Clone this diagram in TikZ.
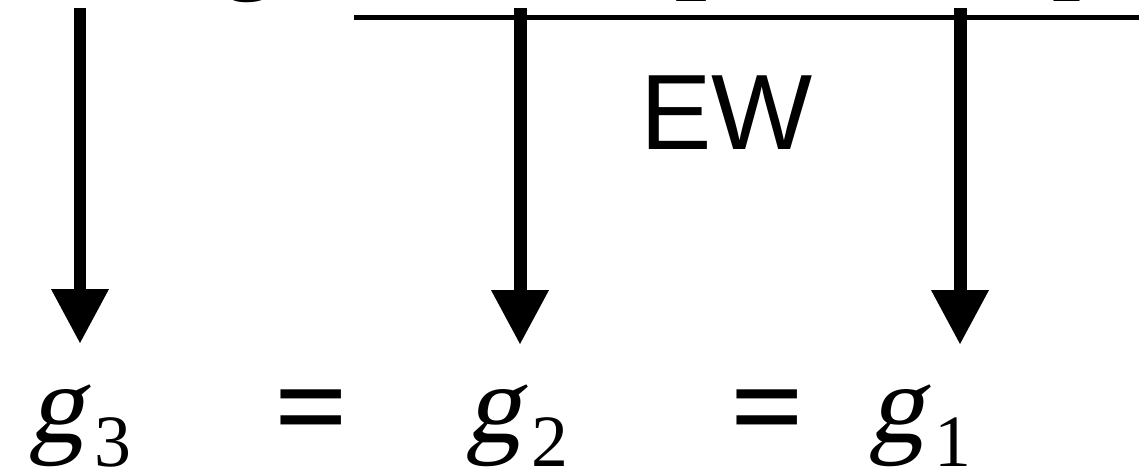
\documentclass[tikz,border=0pt]{standalone}
\usepackage{amsmath}
\usepackage{fontspec}
\setmainfont{Liberation Serif}
\newfontfamily\ewfont{Liberation Sans}
\newfontfamily\slfont[FakeSlant=0.2]{Liberation Serif}
\usetikzlibrary{arrows.meta}

\newcommand{\bigfont}{\fontsize{64}{70}\selectfont}
\newcommand{\subfont}{\fontsize{42}{46}\selectfont}
\newcommand{\gsub}[1]{{\slfont g}\kern0.08em\raisebox{-0.48cm}{\subfont #1}}

\begin{document}
\begin{tikzpicture}[
  x=0.02cm, y=-0.02cm,
  down/.style={-{Triangle[width=1.08cm, length=1.1cm]}, line width=0.26cm},
  bar/.style={line width=0.1cm},
  eqn/.style={anchor=base, inner sep=0pt, font=\bigfont},
  eqsign/.style={anchor=base, inner sep=0pt, font=\fontsize{74}{80}\selectfont\bfseries}]

  \useasboundingbox (0,0) rectangle (1139,474);
  \clip (0,0) rectangle (1139,474);

  % upper row, cut off by the frame
  \node[eqn] (gtop) at (254,-22) {\slfont g};
  \node[anchor=base, inner sep=0pt, font=\subfont] (stwo) at (692,1) {2};
  \node[anchor=base, inner sep=0pt, font=\subfont] (sone) at (1066,1) {1};

  % bar
  \coordinate (barL) at (354,17);
  \coordinate (barR) at (1139,17);
  \draw[bar] (barL) -- (barR);
  \node[anchor=base west, inner sep=0pt, font=\ewfont\fontsize{61}{66}\selectfont]
    (ew) at (640,149) {EW};

  % bottom row
  \node[eqn]    (g3)  at (80,442)  {\gsub{3}};
  \node[eqsign] (eqa) at (312,450) {=};
  \node[eqn]    (g2)  at (517,442) {\gsub{2}};
  \node[eqsign] (eqb) at (768,450) {=};
  \node[eqn]    (g1)  at (920,442) {\gsub{1}};

  % arrows
  \coordinate (t3) at (80,8);   \coordinate (h3) at (80,344);
  \coordinate (t2) at (520,8);  \coordinate (h2) at (520,345);
  \coordinate (t1) at (960,8);  \coordinate (h1) at (960,345);
  \draw[down] (t3) -- (h3);
  \draw[down] (t2) -- (h2);
  \draw[down] (t1) -- (h1);
\end{tikzpicture}
\end{document}
